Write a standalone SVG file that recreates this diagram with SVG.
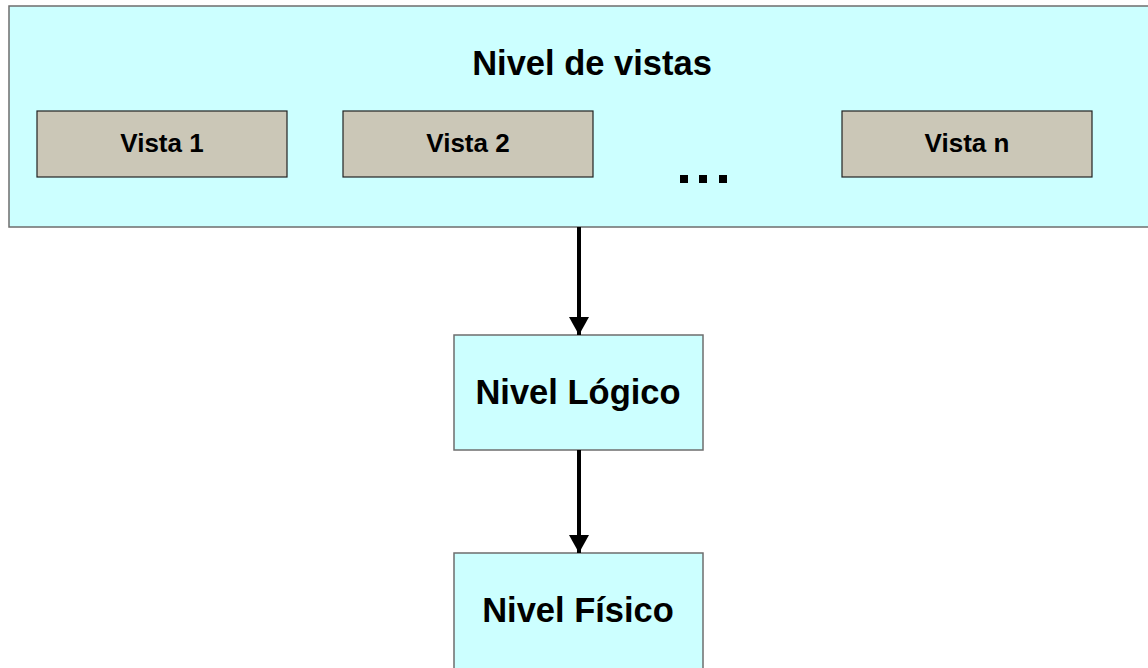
<svg xmlns="http://www.w3.org/2000/svg" width="1148" height="668" viewBox="0 0 1148 668">
  <style>
    .level { fill: #CCFFFF; stroke: #6E6E6E; stroke-width: 1.5; }
    .view { fill: #CBC7B7; stroke: #222; stroke-width: 1.2; }
    .title { font-family: "Liberation Sans", Arial, sans-serif; font-weight: bold; font-size: 34.5px; fill: #000; text-anchor: middle; }
    .label { font-family: "Liberation Sans", Arial, sans-serif; font-weight: bold; font-size: 26px; fill: #000; text-anchor: middle; }
    .link { stroke: #000; stroke-width: 4; fill: none; marker-end: url(#head); }
  </style>
  <defs>
    <marker id="head" markerUnits="userSpaceOnUse" markerWidth="20" markerHeight="20" refX="18" refY="10" orient="auto">
      <path d="M0,0 L18,10 L0,20 Z" fill="#000"/>
    </marker>
  </defs>
  <rect width="1148" height="668" fill="#fff"/>

  <g id="views-level">
    <rect class="level" x="9" y="6" width="1145" height="221"/>
    <text class="title" x="592" y="75">Nivel de vistas</text>
  </g>
  <g id="view-1">
    <rect class="view" x="37" y="111" width="250" height="66"/>
    <text class="label" x="162" y="152">Vista 1</text>
  </g>
  <g id="view-2">
    <rect class="view" x="343" y="111" width="250" height="66"/>
    <text class="label" x="468" y="152">Vista 2</text>
  </g>
  <g id="ellipsis">
    <rect x="680" y="175" width="8" height="8" fill="#000"/>
    <rect x="699" y="175" width="8" height="8" fill="#000"/>
    <rect x="719" y="175" width="8" height="8" fill="#000"/>
  </g>
  <g id="view-n">
    <rect class="view" x="842" y="111" width="250" height="66"/>
    <text class="label" x="967" y="152">Vista n</text>
  </g>

  <g id="logical-level">
    <rect class="level" x="454" y="335" width="249" height="115"/>
    <text class="title" x="578" y="404">Nivel Lógico</text>
  </g>
  <g id="physical-level">
    <rect class="level" x="454" y="553" width="249" height="125"/>
    <text class="title" x="578" y="622">Nivel Físico</text>
  </g>

  <g id="connectors">
    <line class="link" x1="579" y1="227" x2="579" y2="335"/>
    <line class="link" x1="579" y1="450" x2="579" y2="553"/>
  </g>
</svg>
